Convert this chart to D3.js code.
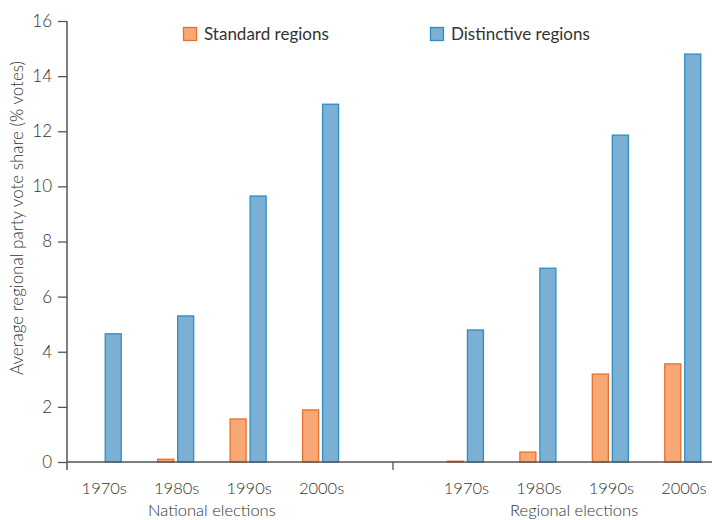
<!DOCTYPE html>
<html><head><meta charset="utf-8">
<script src="https://cdn.jsdelivr.net/npm/d3@7"></script>
<style>body{margin:0;background:#fff}text{font-family:Lato,"Open Sans",sans-serif;fill:#333}</style>
</head><body><svg id="c" width="712" height="520"></svg>
<script>
const decades = ["1970s","1980s","1990s","2000s"];
const groups = ["National elections","Regional elections"];
const seriesNames = ["Standard regions","Distinctive regions"];
const nationalStandard = [0, 0.1, 1.56, 1.89];
const nationalDistinctive = [4.65, 5.3, 9.65, 12.98];
const regionalStandard = [0.03, 0.36, 3.19, 3.56];
const regionalDistinctive = [4.79, 7.03, 11.86, 14.8];
const yTicks = [0,2,4,6,8,10,12,14,16];
const colors = {fill:["#F7A874","#7BAFD3"], stroke:["#E8702A","#2E8DC4"]};

const svg = d3.select("#c");
const slots = d3.range(9);
const x = d3.scaleBand().domain(slots).range([67,719]).padding(0);
const y = d3.scaleLinear().domain([0,16]).range([462,21]);

const rows = [];
decades.forEach((d,i)=>{
  rows.push({slot:i, dec:d, vals:[nationalStandard[i], nationalDistinctive[i]]});
  rows.push({slot:i+5, dec:d, vals:[regionalStandard[i], regionalDistinctive[i]]});
});
const barW = 17, gap = 3;
const g = svg.append("g");
rows.forEach(r=>{
  const c = x(r.slot)+x.bandwidth()/2;
  r.vals.forEach((v,k)=>{
    if(v<=0) return;
    const x0 = k===0 ? c - gap/2 - barW : c + gap/2;
    g.append("rect").attr("x",x0+0.5).attr("y",y(v)).attr("width",barW-1).attr("height",Math.max(0.5,y(0)-y(v)))
      .attr("fill",colors.fill[k]).attr("stroke",colors.stroke[k]).attr("stroke-width",1.3);
  });
  svg.append("text").attr("x",c+1).attr("y",494).attr("text-anchor","middle").attr("font-size",16.5).attr("font-weight",300).text(r.dec);
});

// axes
const yAxis = d3.axisLeft(y).tickValues(yTicks).tickSize(9).tickPadding(6).tickFormat(d3.format("d"));
const ya = svg.append("g").attr("transform","translate(67,0)").call(yAxis);
ya.select(".domain").remove();
ya.selectAll("line").attr("stroke","#555").attr("stroke-width",1.3);
ya.selectAll("text").attr("font-size",17).attr("font-weight",300).style("font-family","Lato,sans-serif").attr("fill","#333");
svg.append("line").attr("x1",67).attr("x2",67).attr("y1",21).attr("y2",470).attr("stroke","#555").attr("stroke-width",1.5);
svg.append("line").attr("x1",67).attr("x2",712).attr("y1",y(0)).attr("y2",y(0)).attr("stroke","#555").attr("stroke-width",1.5);
const sep = x(4)+x.bandwidth()/2;
svg.append("line").attr("x1",sep).attr("x2",sep).attr("y1",y(0)).attr("y2",470).attr("stroke","#555").attr("stroke-width",1.3);

// group labels
[[0,3],[5,8]].forEach((p,i)=>{
  const c = (x(p[0])+x(p[1])+x.bandwidth())/2;
  svg.append("text").attr("x",c).attr("y",516).attr("text-anchor","middle").attr("font-size",16.5).attr("font-weight",300).text(groups[i]);
});

// y title
svg.append("text").attr("transform","translate(23,218) rotate(-90)").attr("text-anchor","middle").attr("font-size",17).attr("font-weight",300).text("Average regional party vote share (% votes)");

// legend
const lx = [183,430];
seriesNames.forEach((s,k)=>{
  svg.append("rect").attr("x",lx[k]+0.5).attr("y",27.5).attr("width",13).attr("height",13).attr("fill",colors.fill[k]).attr("stroke",colors.stroke[k]).attr("stroke-width",1.3);
  svg.append("text").attr("x",lx[k]+21).attr("y",40).attr("font-size",17).text(s);
});
</script></body></html>
